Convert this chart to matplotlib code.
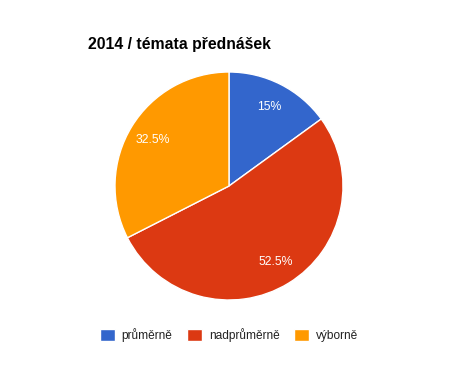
import matplotlib.pyplot as plt

# data
labels = ['průměrně', 'nadprůměrně', 'výborně']
values = [15, 52.5, 32.5]
colors = ['#3366cc', '#dc3912', '#ff9900']
title = '2014 / témata přednášek'

plt.rcParams['font.family'] = ['Liberation Sans', 'DejaVu Sans']

W, H = 457, 371
fig = plt.figure(figsize=(W / 100, H / 100), dpi=100)
fig.patch.set_facecolor('white')

# pie centre (229, 186), radius 114 px
cx, cy, r = 229, 186, 114
ax = fig.add_axes([(cx - r) / W, (H - cy - r) / H, 2 * r / W, 2 * r / H])
wedges, texts, autotexts = ax.pie(
    values, colors=colors, startangle=90, counterclock=False,
    autopct=lambda p: ('%.1f%%' % p).replace('.0%', '%'),
    pctdistance=0.78, radius=1,
    wedgeprops=dict(edgecolor='white', linewidth=1),
    textprops=dict(color='white', fontsize=8.8))
ax.set_xlim(-1, 1)
ax.set_ylim(-1, 1)
ax.set_aspect('equal')

fig.text(88 / W, 1 - 45 / H, title, fontsize=11.3, fontweight='bold',
         color='black', va='center', ha='left')

leg = fig.legend(wedges, labels, loc='center', ncol=3,
                 bbox_to_anchor=(229 / W, 1 - 335 / H),
                 frameon=False, fontsize=8.6, handlelength=1.25,
                 handleheight=1.25, handletextpad=0.55, columnspacing=1.25,
                 borderpad=0)
for t in leg.get_texts():
    t.set_color('#222222')

fig.savefig('out.png', dpi=100, facecolor='white')
